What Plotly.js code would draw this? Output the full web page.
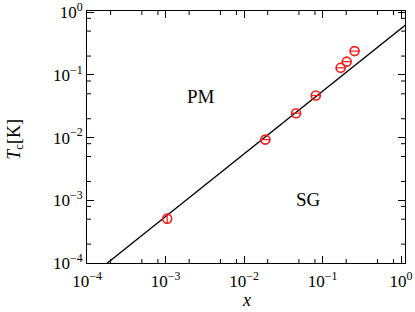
<!DOCTYPE html>
<html><head><meta charset="utf-8">
<script src="https://cdn.plot.ly/plotly-3.0.1.min.js"></script>
<style>html,body{margin:0;padding:0;background:#fff}</style>
</head><body><div id="chart" style="width:415px;height:312px"></div>
<script>
// Data
const xData = [0.00105, 0.0187, 0.046, 0.082, 0.170, 0.203, 0.256];
const tcData = [0.00051, 0.0093, 0.0245, 0.047, 0.130, 0.163, 0.240];
const lineX = [0.0001, 1.2];
const lineY = [0.000055, 0.66];
const majorVals = [1e-4, 1e-3, 1e-2, 1e-1, 1];
const majorText = ['10<sup>−4</sup>','10<sup>−3</sup>','10<sup>−2</sup>','10<sup>−1</sup>','10<sup>0</sup>'];
const minorMult = [2, 5, 8];
const minorVals = [];
majorVals.forEach(d => minorMult.forEach(m => minorVals.push(d * m)));

const FAM = 'Liberation Serif';
const red = '#ff1a1a';
const XR = [-4, 0.05], YR = [-4, 0.02];

const traces = [
  {x: lineX, y: lineY, mode: 'lines', line: {color: '#000', width: 1.3}, hoverinfo: 'skip'},
  {x: xData, y: tcData, mode: 'markers', marker: {symbol: 'circle-open', size: 9, color: red, line: {color: red, width: 1.6}}},
  {x: xData.slice(0,1), y: tcData.slice(0,1), mode: 'markers', marker: {symbol: 'line-ns', size: 7, color: red, line: {color: red, width: 1.2}}},
  {x: xData.slice(1), y: tcData.slice(1), mode: 'markers', marker: {symbol: 'line-ew', size: 7, color: red, line: {color: red, width: 1.2}}}
];

function mainAxis(range) {
  return {
    type: 'log', range: range, showgrid: false, zeroline: false, showline: true, linecolor: '#000', linewidth: 1,
    mirror: 'allticks', ticks: 'inside', ticklen: 7, tickwidth: 1, tickcolor: '#000',
    tickmode: 'array', tickvals: majorVals, ticktext: majorText,
    tickfont: {family: FAM, size: 17, color: '#000'},
    title: {text: ''}
  };
}

// minor tick marks as short shapes on the axis domains (4 px long, inward)
const shapes = [];
const tickLine = {color: '#000', width: 1};
minorVals.forEach(v => {
  const fx = (Math.log10(v) - XR[0]) / (XR[1] - XR[0]);
  if (fx > 0 && fx < 1) {
    shapes.push({type: 'line', xref: 'x domain', yref: 'y domain', ysizemode: 'pixel', yanchor: 0, x0: fx, x1: fx, y0: 0, y1: 4, line: tickLine});
    shapes.push({type: 'line', xref: 'x domain', yref: 'y domain', ysizemode: 'pixel', yanchor: 1, x0: fx, x1: fx, y0: 0, y1: -4, line: tickLine});
  }
  const fy = (Math.log10(v) - YR[0]) / (YR[1] - YR[0]);
  if (fy > 0 && fy < 1) {
    shapes.push({type: 'line', xref: 'x domain', yref: 'y domain', xsizemode: 'pixel', xanchor: 0, y0: fy, y1: fy, x0: 0, x1: 4, line: tickLine});
    shapes.push({type: 'line', xref: 'x domain', yref: 'y domain', xsizemode: 'pixel', xanchor: 1, y0: fy, y1: fy, x0: 0, x1: -4, line: tickLine});
  }
});

const xa = mainAxis(XR);
xa.ticklabelstandoff = 3;
const ya = mainAxis(YR);

const layout = {
  width: 415, height: 312, showlegend: false,
  font: {family: FAM, size: 17, color: '#000'},
  margin: {l: 87, r: 10, t: 11, b: 49},
  paper_bgcolor: '#fff', plot_bgcolor: '#fff',
  xaxis: xa,
  yaxis: ya,
  shapes: shapes,
  annotations: [
    {text: 'PM', xref: 'paper', yref: 'paper', x: 0.308, y: 0.709, showarrow: false, font: {family: FAM, size: 19, color: '#000'}},
    {text: 'SG', xref: 'paper', yref: 'paper', x: 0.742, y: 0.203, showarrow: false, font: {family: FAM, size: 19, color: '#000'}},
    {text: '<i>x</i>', xref: 'paper', yref: 'paper', x: 0.5, y: -0.147, xanchor: 'center', yanchor: 'middle', showarrow: false, font: {family: FAM, size: 18, color: '#000'}},
    {text: '<i>T</i><sub>c</sub>[K]', xref: 'paper', yref: 'paper', x: -0.226, y: 0.49, xanchor: 'center', yanchor: 'middle', textangle: -90, showarrow: false, font: {family: FAM, size: 18, color: '#000'}}
  ]
};

Plotly.newPlot('chart', traces, layout, {displayModeBar: false});
</script></body></html>
